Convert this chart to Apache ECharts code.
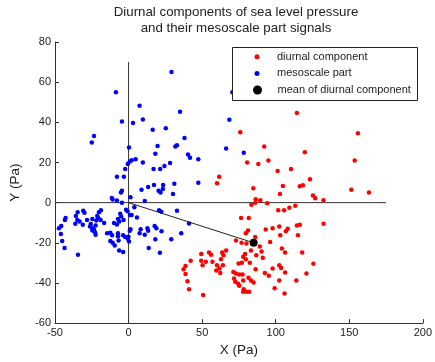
<!DOCTYPE html>
<html>
<head>
<meta charset="utf-8">
<script src="https://cdn.jsdelivr.net/npm/echarts@6/dist/echarts.min.js"></script>
<style>
html,body{margin:0;padding:0;background:#fff;}
#chart{width:435px;height:362px;}
</style>
</head>
<body>
<div id="chart"></div>
<script>
const titleLines = ['Diurnal components of sea level pressure', 'and their mesoscale part signals'];
const xTicks = [-50, 0, 50, 100, 150, 200];
const yTicks = [-60, -40, -20, 0, 20, 40, 60, 80];
const seriesNames = ['diurnal component', 'mesoscale part', 'mean of diurnal component'];

const diurnal = [
[75.9,35],[114.4,44.7],[155.9,34.5],[92.2,27.9],[95,21],[88.2,19.3],[80.6,20],[101.3,15.8],[110.4,16.7],[61.6,12.9],[60.1,9.6],[104.9,8.3],[84.8,7.1],[102.9,4.3],[86.4,1.7],[89.5,1.2],[86.1,0],[83.5,-1.1],[94.2,-0.3],[101.7,-3.8],[105.7,-3.8],[109.3,-2.5],[113.3,-1.5],[76.5,-7.6],[81.7,-7.6],[81.2,-13.9],[79.7,-15.3],[86.1,-17.1],[93.2,-13.4],[97.9,-12.7],[102.4,-11.9],[106.9,-14.2],[108.2,-13],[103.1,-16.3],[114.4,-11.4],[119.8,25.1],[153.7,21],[123.3,11.6],[116.4,8.1],[118.5,8.6],[151.4,6.4],[163.4,5.1],[125.3,3.5],[126.9,2.2],[132.5,1.2],[116.4,-11],[132.5,-10.5],[115.1,-16.3],[118,-24.8],[125.6,-30.5],[120.9,-35.3],
[73,-18.8],[76.8,-20],[80.1,-20.3],[96.2,-19.6],[89.2,-21.9],[90.4,-24.3],[83.2,-23.9],[79.2,-25.6],[77.9,-26.9],[79.7,-28.2],[86.8,-26.2],[91.2,-27.5],[77,-29.9],[74.8,-30.3],[82.4,-29.9],[104.2,-22.9],[106.4,-24.9],[49.4,-25.6],[54.7,-24.9],[56.1,-25.9],[63.6,-24.9],[66.3,-23.9],[64.5,-26.2],[62.8,-28.2],[49.4,-28.9],[52.5,-29.5],[57,-29.5],[50.3,-31.2],[42.2,-28.9],[38.7,-31.5],[37.4,-33.2],[38.7,-35.6],[40,-39.1],[41.1,-43.1],[50.7,-46],[60.1,-31.2],[61.8,-32.8],[64.1,-31.2],[59.6,-33.8],[62.3,-35.1],[71.2,-34.5],[73,-35.3],[75.2,-35.8],[71.7,-37.8],[72.5,-39.4],[74.5,-40.4],[77.9,-38.8],[75.2,-41.4],[78.3,-43.1],[80.1,-44.4],[81.9,-44.4],[77.9,-44.4],[77.5,-35.8],[81.5,-37.4],[83.2,-38.8],[85,-39.8],[86.4,-33.2],[92.6,-35.1],[95.3,-36.4],[97.9,-32.8],[102.4,-31.2],[103.7,-32.5],[106.4,-34.8],[102.4,-38.8],[99.3,-42.7],[106,-45.3],[114,-38.8]
];

const mesoscale = [
[-23.5,33.2],[-8.6,55],[-4.5,40.4],[3,39.6],[7.5,48.2],[9.7,41.4],[16.4,36.3],[25.3,37],[29.2,65],[70.5,55],[35,45.2],[68.5,41.3],[38,32.2],
[-25,29.9],[0.3,27.4],[19.7,28.2],[18.2,24.3],[4.8,21.6],[2.1,21.1],[0.8,20.5],[-0.5,19.2],[9.7,20],[-2.3,16.7],[17,16.7],[21.5,16.7],[24.4,18.3],[28.2,19.7],[-7.9,12.9],[-3.2,12.9],[8.8,6.4],[13.3,7.8],[17.3,8.8],[20.4,5.9],[21.7,5.1],[23.5,8.8],[-4.5,5.9],[-5.2,5],[1.3,2.7],[11,0.8],[-11.4,2.3],[-10.8,1.5],[-7.9,1],[-4.5,0],
[32.9,28.6],[31.8,27.9],[66.3,26.9],[78.3,24.9],[40.4,24],[41.8,22.3],[47.4,21.6],[31.1,9.4],[47.4,9.9],[30.2,4.3],[23.3,6.8],[32.9,-4.1],
[-34.6,-4.8],[-30.8,-4],[-30,-5.1],[-35.8,-6.7],[-34.8,-8.7],[-33.3,-9.4],[-36.2,-10.5],[-31.1,-11],[-28.2,-8.6],[-25.7,-10.7],[-26.2,-11.9],[-24.6,-12.7],[-23.5,-13.4],[-22.4,-11.4],[-21.9,-8.9],[-21.3,-6.7],[-20.1,-4.8],[-18.8,-3.8],[-20.6,-7.7],[-19,-8.6],[-22.4,-16],[-43.3,-8.6],[-42.8,-7.7],[-47.3,-12.7],[-45.8,-11.7],[-46,-15.6],[-9.9,-10.2],[-7.2,-8.1],[-5.7,-5.6],[-5,-6.9],[-6.4,-9.4],[-7.9,-10.9],[-3.4,-8.7],[-1.7,-3.5],[-0.7,-4.3],[1,-6.1],[2.1,-6.1],[5.7,-7.4],[3.9,-2.3],[8.2,-13.2],[12.8,-12.7],[13.3,-14],[17.7,-11.7],[18.9,-12.7],[20.7,-3.8],[22.2,-4.5],[22.4,-14.2],[0.8,-14],[-12.4,-15],[-11.2,-16.3],[-14.6,-15.3],[-3.7,-16.3],[-0.1,-17],[-7.2,-16.8],[-16.6,-10.2],[-24.6,-8.1],
[-45.1,-19.1],[-43.5,-22.6],[-34.4,-25.9],[-24.6,-13.9],[-22.8,-14.7],[-7.2,-15.3],[-12.4,-19.1],[-10.8,-20],[-9.4,-21.3],[-6.8,-18.8],[-6.4,-23.8],[-3.7,-24.6],[-2.3,-17.1],[-0.5,-18],[0.3,-19.3],[1.3,-13.2],[7.5,-15.3],[11,-16],[13.7,-22.6],[18.2,-18.3],[21.3,-25],[29,-18.3],[41.1,-10.4],[35.8,-15.3]
];

const meanPoint = [[85, -20]];
const meanVector = [[0, 0], [85, -20]];
const zeroLineX = [[-50, 0], [175, 0]];
const zeroLineY = [[0, -60], [0, 70]];

const FONT = '"Liberation Sans", Arial, sans-serif';
const chart = echarts.init(document.getElementById('chart'), null, {renderer: 'canvas'});

const lineStyleRef = {color: '#333', width: 1};

chart.setOption({
  animation: false,
  backgroundColor: '#fff',
  title: {
    text: titleLines.join('\n'),
    left: 236, top: 4, padding: 0,
    textAlign: 'center', textVerticalAlign: 'top',
    textStyle: {fontFamily: FONT, fontSize: 13.3, fontWeight: 'normal', lineHeight: 16, color: '#222'}
  },
  grid: {left: 52, right: 9, top: 42, bottom: 37, containLabel: false},
  xAxis: {
    type: 'value', min: xTicks[0], max: xTicks[xTicks.length - 1], interval: 50,
    name: 'X (Pa)', nameLocation: 'middle', nameGap: 19,
    nameTextStyle: {fontFamily: FONT, fontSize: 13.5, color: '#222'},
    axisLine: {show: true, onZero: false, lineStyle: {color: '#333', width: 1}},
    axisTick: {show: true, inside: true, length: 4, lineStyle: {color: '#333'}},
    axisLabel: {fontFamily: FONT, fontSize: 11, color: '#222', margin: 4},
    splitLine: {show: false}
  },
  yAxis: {
    type: 'value', min: yTicks[0], max: yTicks[yTicks.length - 1], interval: 20,
    name: 'Y (Pa)', nameLocation: 'middle', nameGap: 33, nameRotate: 90,
    nameTextStyle: {fontFamily: FONT, fontSize: 13.5, color: '#222'},
    axisLine: {show: true, onZero: false, lineStyle: {color: '#333', width: 1}},
    axisTick: {show: true, inside: true, length: 4, lineStyle: {color: '#333'}},
    axisLabel: {fontFamily: FONT, fontSize: 11, color: '#222', margin: 4},
    splitLine: {show: false}
  },
  legend: [
    {
      data: [seriesNames[0], seriesNames[1]],
      orient: 'vertical', left: 254.5, top: 49.7, padding: 0,
      itemWidth: 30, itemHeight: 5, itemGap: 2.7, icon: 'circle',
      selectedMode: false, z: 11,
      textStyle: {fontFamily: FONT, fontSize: 11, lineHeight: 14, color: '#222'}
    },
    {
      data: [seriesNames[2]],
      orient: 'vertical', left: 253, top: 83, padding: 0,
      itemWidth: 30, itemHeight: 9, icon: 'circle',
      selectedMode: false, z: 11,
      textStyle: {fontFamily: FONT, fontSize: 11, lineHeight: 14, color: '#222'}
    }
  ],
  graphic: [{
    type: 'rect', z: 10,
    shape: {x: 232.5, y: 47.5, width: 185, height: 53},
    style: {fill: '#fff', stroke: '#222', lineWidth: 1}
  }],
  series: [
    {type: 'line', data: zeroLineX, symbol: 'none', silent: true, z: 1, lineStyle: lineStyleRef},
    {type: 'line', data: zeroLineY, symbol: 'none', silent: true, z: 1, lineStyle: lineStyleRef},
    {name: seriesNames[0], type: 'scatter', data: diurnal, symbol: 'circle', symbolSize: 4.5, z: 2,
     itemStyle: {color: '#ff0000', opacity: 1}},
    {name: seriesNames[1], type: 'scatter', data: mesoscale, symbol: 'circle', symbolSize: 4.5, z: 2,
     itemStyle: {color: '#0000ff', opacity: 1}},
    {type: 'line', data: meanVector, symbol: 'none', silent: true, z: 3, lineStyle: {color: '#222', width: 1}},
    {name: seriesNames[2], type: 'scatter', data: meanPoint, symbol: 'circle', symbolSize: 8, z: 4,
     itemStyle: {color: '#000', opacity: 1}}
  ]
});
</script>
</body>
</html>
